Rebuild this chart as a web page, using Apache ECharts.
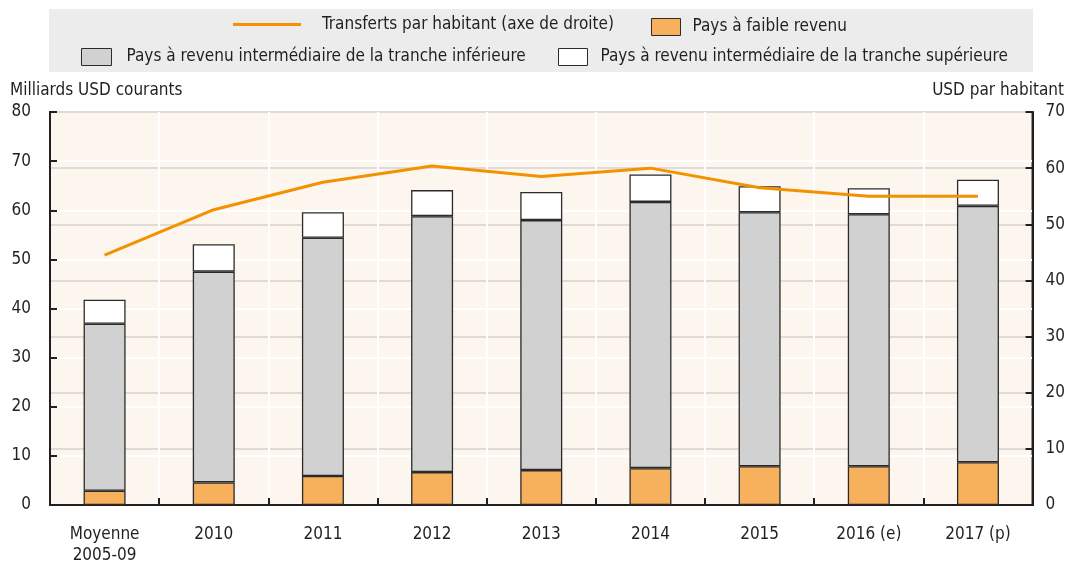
<!DOCTYPE html>
<html lang="fr">
<head>
<meta charset="UTF-8">
<title>Transferts</title>
<script src="https://cdnjs.cloudflare.com/ajax/libs/echarts/6.0.0/echarts.min.js"></script>
<style>
  html, body { margin: 0; padding: 0; background: #fff; }
  #chart { width: 1068px; height: 566px; }
</style>
</head>
<body>
<div id="chart"></div>
<script>
  // categories and values
  const categories = ['Moyenne\n2005-09', '2010', '2011', '2012', '2013', '2014', '2015', '2016 (e)', '2017 (p)'];
  const faible = [2.9, 4.6, 5.9, 6.7, 7.1, 7.5, 7.9, 7.9, 8.7];
  const interInf = [34.0, 42.9, 48.5, 52.1, 50.9, 54.2, 51.7, 51.3, 52.2];
  const interSup = [4.9, 5.6, 5.2, 5.3, 5.7, 5.6, 5.3, 5.3, 5.3];
  const parHabitant = [44.5, 52.6, 57.5, 60.4, 58.5, 60.0, 56.5, 55.0, 55.0];

  const FONT = "'Liberation Sans Narrow', 'DejaVu Sans Condensed', 'Roboto Condensed', sans-serif";
  const TXT = '#231f20';

  const chart = echarts.init(document.getElementById('chart'));

  const legendBase = {
    orient: 'horizontal',
    itemGap: 0,
    padding: 0,
    selectedMode: false,
    textStyle: { fontFamily: FONT, fontSize: 17, color: TXT }
  };

  const barStyle = (color) => ({ color: color, borderColor: '#2b2b2b', borderWidth: 1.3 });

  const option = {
    animation: false,
    textStyle: { fontFamily: FONT },
    graphic: [
      { type: 'rect', left: 49, top: 9, shape: { width: 984, height: 63 }, style: { fill: '#ececec' }, z: -1 },
      { type: 'text', left: 10, top: 82, style: { text: 'Milliards USD courants', font: '17px ' + FONT, fill: TXT } },
      { type: 'text', right: 4, top: 82, style: { text: 'USD par habitant', font: '17px ' + FONT, fill: TXT } }
    ],
    legend: [
      Object.assign({}, legendBase, {
        left: 233, top: 16, itemWidth: 68, itemHeight: 3,
        data: [{ name: 'Transferts par habitant (axe de droite)', icon: 'rect' }],
        textStyle: Object.assign({}, legendBase.textStyle, { padding: [0, 0, 0, 16] })
      }),
      Object.assign({}, legendBase, {
        left: 651, top: 18, itemWidth: 29, itemHeight: 17,
        data: [{ name: 'Pays à faible revenu', icon: 'rect', itemStyle: { borderColor: '#2b2b2b', borderWidth: 1 } }],
        textStyle: Object.assign({}, legendBase.textStyle, { padding: [0, 0, 0, 7] })
      }),
      Object.assign({}, legendBase, {
        left: 81, top: 48, itemWidth: 30, itemHeight: 17,
        data: [{ name: 'Pays à revenu intermédiaire de la tranche inférieure', icon: 'rect', itemStyle: { borderColor: '#2b2b2b', borderWidth: 1 } }],
        textStyle: Object.assign({}, legendBase.textStyle, { padding: [0, 0, 0, 10] })
      }),
      Object.assign({}, legendBase, {
        left: 558, top: 48, itemWidth: 29, itemHeight: 17,
        data: [{ name: 'Pays à revenu intermédiaire de la tranche supérieure', icon: 'rect', itemStyle: { borderColor: '#2b2b2b', borderWidth: 1 } }],
        textStyle: Object.assign({}, legendBase.textStyle, { padding: [0, 0, 0, 8] })
      })
    ],
    grid: {
      left: 50, right: 35, top: 112, bottom: 57,
      show: true,
      backgroundColor: '#fdf6ef',
      borderColor: TXT,
      borderWidth: 2
    },
    xAxis: {
      type: 'category',
      data: categories,
      boundaryGap: true,
      axisLine: { show: true, lineStyle: { color: TXT, width: 2 } },
      axisTick: { show: true, inside: true, length: 7, lineStyle: { color: TXT, width: 2 } },
      splitLine: { show: true, lineStyle: { color: '#ffffff', width: 2 } },
      axisLabel: { fontFamily: FONT, fontSize: 17, color: TXT, margin: 19, lineHeight: 21 }
    },
    yAxis: [
      {
        type: 'value', min: 0, max: 80, interval: 10,
        axisLine: { show: true, lineStyle: { color: TXT, width: 2 } },
        axisTick: { show: true, inside: true, length: 7, lineStyle: { color: TXT, width: 2 } },
        splitLine: { show: true, lineStyle: { color: '#ffffff', width: 2 } },
        axisLabel: { fontFamily: FONT, fontSize: 17, color: TXT, margin: 19 }
      },
      {
        type: 'value', min: 0, max: 70, interval: 10, position: 'right',
        axisLine: { show: true, lineStyle: { color: TXT, width: 2 } },
        axisTick: { show: true, inside: true, length: 7, lineStyle: { color: TXT, width: 2 } },
        splitLine: { show: true, lineStyle: { color: '#dedbd8', width: 2 } },
        axisLabel: { fontFamily: FONT, fontSize: 17, color: TXT, margin: 13 }
      }
    ],
    series: [
      {
        name: 'Pays à faible revenu', type: 'bar', stack: 'total', barWidth: 42,
        itemStyle: barStyle('#f7b15d'), data: faible
      },
      {
        name: 'Pays à revenu intermédiaire de la tranche inférieure', type: 'bar', stack: 'total', barWidth: 42,
        itemStyle: barStyle('#d1d1d1'), data: interInf
      },
      {
        name: 'Pays à revenu intermédiaire de la tranche supérieure', type: 'bar', stack: 'total', barWidth: 42,
        itemStyle: barStyle('#ffffff'), data: interSup
      },
      {
        name: 'Transferts par habitant (axe de droite)', type: 'line', yAxisIndex: 1,
        symbol: 'none', z: 5,
        lineStyle: { color: '#f39200', width: 3 },
        itemStyle: { color: '#f39200' },
        data: parHabitant
      }
    ]
  };

  chart.setOption(option);
</script>
</body>
</html>
